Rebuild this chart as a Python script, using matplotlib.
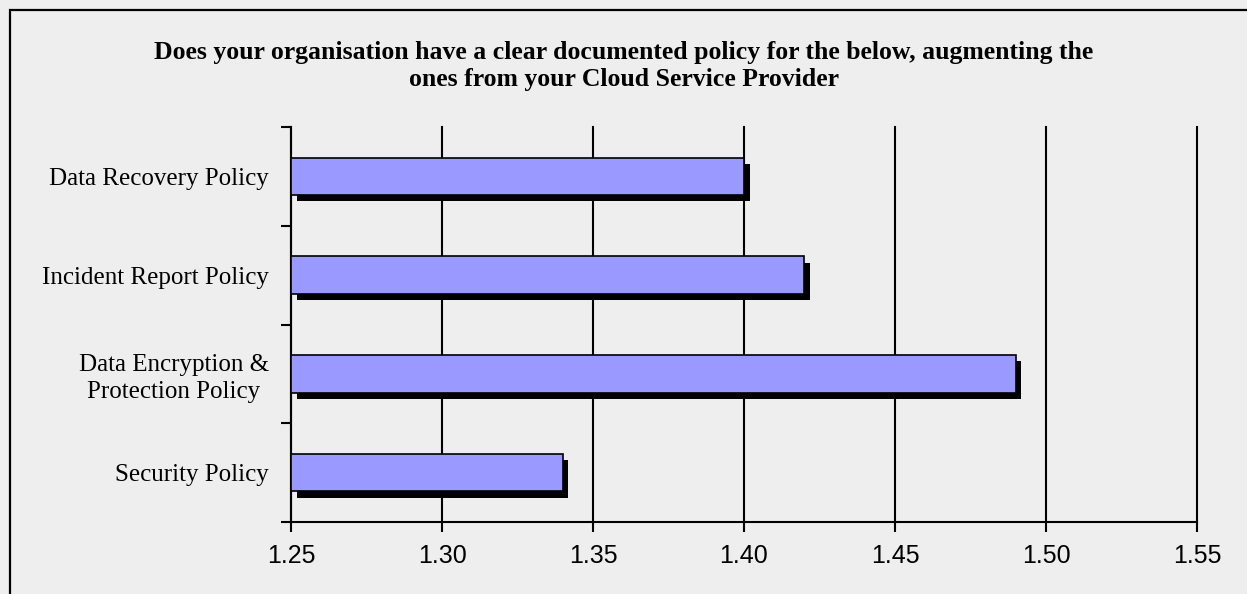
import matplotlib
matplotlib.use("Agg")
import matplotlib.pyplot as plt
import matplotlib.patheffects as pe
from matplotlib.patches import Rectangle

categories = ["Security Policy", "Data Encryption &\nProtection Policy",
              "Incident Report Policy", "Data Recovery Policy"]
values = [1.34, 1.49, 1.42, 1.40]
xticks = [1.25, 1.30, 1.35, 1.40, 1.45, 1.50, 1.55]
title = ("Does your organisation have a clear documented policy for the below, augmenting the\n"
         "ones from your Cloud Service Provider")

W, H, DPI = 1247, 594, 100
fig = plt.figure(figsize=(W / DPI, H / DPI), dpi=DPI, facecolor="#eeeeee")
ax = fig.add_axes([291 / W, 1 - 522 / H, (1197 - 291) / W, (522 - 127) / H])
ax.set_facecolor("#eeeeee")

# figure border (left/top visible)
left, top = 10 / W, 1 - 10 / H
fig.patches.append(Rectangle((left, -0.1), 1.2, top + 0.1,
                             transform=fig.transFigure, fill=False, edgecolor="black", lw=1.6))

ypos = list(range(len(categories)))
bars = ax.barh(ypos, [v - 1.25 for v in values], left=1.25, height=0.38,
               color="#9999ff", edgecolor="black", linewidth=1.2, zorder=3)
for b in bars:
    b.set_path_effects([pe.SimplePatchShadow(offset=(4, -4.5), shadow_rgbFace="black", alpha=1.0),
                        pe.Normal()])

ax.set_xlim(1.25, 1.55)
ax.set_ylim(-0.5, len(categories) - 0.5)
ax.set_xticks(xticks)
ax.set_xticklabels([f"{t:.2f}" for t in xticks], fontfamily="Liberation Sans", fontsize=18)
ax.set_yticks([i - 0.5 for i in range(len(categories) + 1)], minor=False)
ax.set_yticklabels([])
ax.set_yticks(ypos, minor=True)
ax.set_yticklabels(categories, minor=True, fontfamily="Liberation Serif", fontsize=18,
                   ha="right", multialignment="center", linespacing=1.25)
ax.tick_params(axis="y", which="minor", length=0, pad=16)
ax.tick_params(axis="y", which="major", length=7, width=1.5, direction="out")
ax.tick_params(axis="x", length=7, width=1.5, direction="out", pad=9)
ax.xaxis.grid(True, color="black", linewidth=1.5, zorder=0)
for gl in ax.get_xgridlines():
    gl.set_clip_on(False)
ax.set_axisbelow(True)
for s in ["top", "right"]:
    ax.spines[s].set_visible(False)
for s in ["left", "bottom"]:
    ax.spines[s].set_linewidth(1.5)

fig.text(624 / W, 1 - 66 / H, title, ha="center", va="center",
         fontfamily="Liberation Serif", fontweight="bold", fontsize=18.5, linespacing=1.22)

fig.savefig("out.png", dpi=DPI, facecolor=fig.get_facecolor())
